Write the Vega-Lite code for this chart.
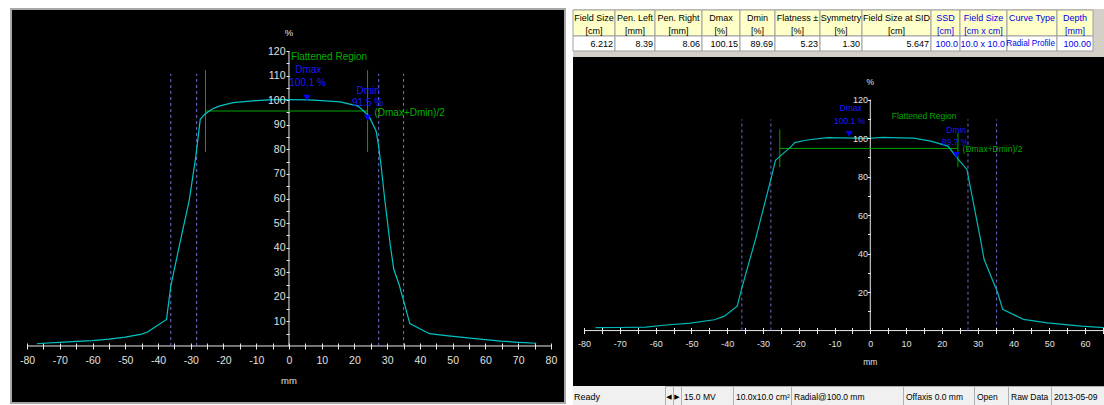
{
 "$schema": "https://vega.github.io/schema/vega-lite/v6.json",
 "background": "#ffffff",
 "padding": {"left": 10, "top": 8, "right": 0, "bottom": 0},
 "config": {"font": "Liberation Sans", "view": {"stroke": null}, "text": {"font": "Liberation Sans"}},
 "datasets": {
  "L_curve": [
   {"x": -77, "y": 0.9}, {"x": -75, "y": 1.1}, {"x": -70, "y": 1.5}, {"x": -65, "y": 1.9}, {"x": -60, "y": 2.2},
   {"x": -55, "y": 2.8}, {"x": -50, "y": 3.6}, {"x": -45, "y": 4.8}, {"x": -43.2, "y": 5.7}, {"x": -37.4, "y": 10.8},
   {"x": -36.1, "y": 24.4}, {"x": -33.4, "y": 41.3}, {"x": -30.5, "y": 59}, {"x": -28.5, "y": 76.6}, {"x": -27.1, "y": 92.2},
   {"x": -25.8, "y": 94.2}, {"x": -23.6, "y": 96.3}, {"x": -21.4, "y": 97.6}, {"x": -17.1, "y": 99.0}, {"x": -10, "y": 99.8},
   {"x": -5.1, "y": 100.2}, {"x": 0, "y": 100.2}, {"x": 5.8, "y": 100.1}, {"x": 10, "y": 99.8}, {"x": 15.7, "y": 99.3},
   {"x": 21.1, "y": 97.6}, {"x": 24.4, "y": 93.6}, {"x": 26.6, "y": 87.5}, {"x": 27.3, "y": 82}, {"x": 28.2, "y": 72.5},
   {"x": 29.3, "y": 59}, {"x": 30.9, "y": 41.4}, {"x": 32, "y": 31.2}, {"x": 33.6, "y": 25.1}, {"x": 35.3, "y": 17},
   {"x": 36.9, "y": 9.1}, {"x": 42.9, "y": 5.0}, {"x": 48, "y": 4.2}, {"x": 53.8, "y": 3.4}, {"x": 60, "y": 2.6},
   {"x": 64.7, "y": 2.0}, {"x": 70, "y": 1.5}, {"x": 75.5, "y": 1.1}
  ],
  "L_axes": [{"x": -80, "x2": 80, "y": 0, "y2": 0}, {"x": 0, "x2": 0, "y": 0, "y2": 120}],
  "L_dash": [{"x": -36.1, "y": 0, "y2": 110.7}, {"x": -28.2, "y": 0, "y2": 110.7}, {"x": 27.4, "y": 0, "y2": 110.7}, {"x": 35.0, "y": 0, "y2": 110.7}],
  "L_green": [{"x": -25.5, "x2": -25.5, "y": 78.9, "y2": 112.2}, {"x": 24.0, "x2": 24.0, "y": 78.9, "y2": 112.2}, {"x": -25.5, "x2": 24.0, "y": 95.6, "y2": 95.6}],
  "L_gtext": [{"x": 0.6, "y": 117.6, "t": "Flattened Region"}, {"x": 26.1, "y": 94.9, "t": "(Dmax+Dmin)/2"}],
  "L_btext": [{"x": 5.9, "y": 112.2, "t": "Dmax"}, {"x": 5.7, "y": 106.9, "t": "100.1 %"}, {"x": 24.2, "y": 103.7, "t": "Dmin"}, {"x": 24.0, "y": 99.0, "t": "91.5 %"}],
  "L_marks": [{"x": 5.5, "y": 101.0}, {"x": 24.0, "y": 92.8}],
  "L_titles": [{"x": 0, "y": 127.3, "t": "%"}, {"x": 0, "y": -14.2, "t": "mm"}],
  "R_curve": [
   {"x": -76.8, "y": 1.5}, {"x": -70, "y": 1.6}, {"x": -62.8, "y": 1.8}, {"x": -57.1, "y": 2.9}, {"x": -50.3, "y": 3.9},
   {"x": -43.6, "y": 5.6}, {"x": -40.8, "y": 7.5}, {"x": -37.2, "y": 12.7}, {"x": -35.9, "y": 22.2}, {"x": -32, "y": 48},
   {"x": -27.8, "y": 78.5}, {"x": -26.5, "y": 88.4}, {"x": -25.2, "y": 90.6}, {"x": -22, "y": 95.8}, {"x": -21.1, "y": 97.6},
   {"x": -17.7, "y": 99}, {"x": -11.9, "y": 100.2}, {"x": -0.4, "y": 99.8}, {"x": 3.4, "y": 100.3}, {"x": 12.1, "y": 100},
   {"x": 16.9, "y": 98.4}, {"x": 21.7, "y": 95.8}, {"x": 24.6, "y": 88.9}, {"x": 27, "y": 83.7}, {"x": 28.9, "y": 65.6},
   {"x": 30.8, "y": 47.4}, {"x": 31.8, "y": 37}, {"x": 35.6, "y": 19.6}, {"x": 37, "y": 11}, {"x": 42.8, "y": 5.8},
   {"x": 49.5, "y": 4}, {"x": 59.1, "y": 2.3}, {"x": 65.4, "y": 1.5}
  ],
  "R_axes": [{"x": -80, "x2": 65.6, "y": 0, "y2": 0}, {"x": 0, "x2": 0, "y": 0, "y2": 120}],
  "R_dash": [{"x": -35.9, "y": 0, "y2": 109.7}, {"x": -27.8, "y": 0, "y2": 109.7}, {"x": 27.3, "y": 0, "y2": 109.7}, {"x": 35.3, "y": 0, "y2": 109.7}],
  "R_green": [{"x": -25.3, "x2": -25.3, "y": 84.9, "y2": 104.5}, {"x": 24.5, "x2": 24.5, "y": 84.9, "y2": 102.7}, {"x": -25.3, "x2": 24.5, "y": 94.6, "y2": 94.6}],
  "R_gtext": [{"x": 6.0, "y": 111.4, "t": "Flattened Region"}, {"x": 25.8, "y": 94.1, "t": "(Dmax+Dmin)/2"}],
  "R_btext": [{"x": -5.5, "y": 115.7, "t": "Dmax"}, {"x": -5.8, "y": 108.8, "t": "100.1 %"}, {"x": 24.0, "y": 104.2, "t": "Dmin"}, {"x": 23.7, "y": 97.9, "t": "89.7 %"}],
  "R_marks": [{"x": -5.9, "y": 102.2}, {"x": 24.1, "y": 91.2}],
  "R_titles": [{"x": 0, "y": 129.2, "t": "%"}, {"x": 0, "y": -16.4, "t": "mm"}],
  "table": [
   {"c0": 0, "c1": 1, "h": ["Field Size", "[cm]"], "v": "6.212"},
   {"c0": 1, "c1": 2, "h": ["Pen. Left", "[mm]"], "v": "8.39"},
   {"c0": 2, "c1": 3, "h": ["Pen. Right", "[mm]"], "v": "8.06"},
   {"c0": 3, "c1": 4, "h": ["Dmax", "[%]"], "v": "100.15"},
   {"c0": 4, "c1": 5, "h": ["Dmin", "[%]"], "v": "89.69"},
   {"c0": 5, "c1": 6, "h": ["Flatness ±", "[%]"], "v": "5.23"},
   {"c0": 6, "c1": 7, "h": ["Symmetry", "[%]"], "v": "1.30"},
   {"c0": 7, "c1": 8, "h": ["Field Size at SID", "[cm]"], "v": "5.647"},
   {"c0": 8, "c1": 9, "h": ["SSD", "[cm]"], "v": "100.0"},
   {"c0": 9, "c1": 10, "h": ["Field Size", "[cm x cm]"], "v": "10.0 x 10.0"},
   {"c0": 10, "c1": 11, "h": ["Curve Type", ""], "v": "Radial Profile"},
   {"c0": 11, "c1": 12, "h": ["Depth", "[mm]"], "v": "100.00"}
  ],
  "status": [
   {"i": 1, "t": "Ready"}, {"i": 2, "t": "◀"}, {"i": 3, "t": "▶"}, {"i": 4, "t": "15.0 MV"}, {"i": 5, "t": "10.0x10.0 cm²"},
   {"i": 6, "t": "Radial@100.0 mm"}, {"i": 7, "t": "Offaxis 0.0 mm"}, {"i": 8, "t": "Open"}, {"i": 9, "t": "Raw Data"}, {"i": 10, "t": "2013-05-09"}
  ]
 },
 "spacing": 8,
 "bounds": "flush",
 "hconcat": [
  {
   "width": 554, "height": 394,
   "view": {"fill": "#000000", "stroke": "#a8a8a8", "strokeWidth": 2},
   "encoding": {
    "x": {"field": "x", "type": "quantitative", "scale": {"domain": [-84.9, 84.3], "nice": false, "zero": false},
     "axis": {"orient": "bottom", "offset": -60, "values": [-80,-75,-70,-65,-60,-55,-50,-45,-40,-35,-30,-25,-20,-15,-10,-5,0,5,10,15,20,25,30,35,40,45,50,55,60,65,70,75,80],
      "labelExpr": "datum.value % 10 === 0 ? '' + datum.value : ''", "domain": false, "grid": false, "tickSize": 6, "tickColor": "#e8e8e8",
      "labelColor": "#e0e0e0", "labelFont": "Liberation Sans", "labelFontSize": 10.5, "labelPadding": 6, "labelOverlap": false, "labelFlush": false, "title": null, "zindex": 1}},
    "y": {"field": "y", "type": "quantitative", "scale": {"domain": [-23.2, 137.1], "nice": false, "zero": false},
     "axis": {"orient": "left", "offset": -278, "values": [5,10,15,20,25,30,35,40,45,50,55,60,65,70,75,80,85,90,95,100,105,110,115,120],
      "labelExpr": "datum.value % 10 === 0 ? '' + datum.value : ''", "domain": false, "grid": false, "tickSize": 3, "tickColor": "#e8e8e8",
      "labelColor": "#e0e0e0", "labelFont": "Liberation Sans", "labelFontSize": 10.5, "labelPadding": 1, "labelOverlap": false, "labelFlush": false, "title": null, "zindex": 1}}
   },
   "layer": [
    {"data": {"name": "L_axes"}, "mark": {"type": "rule", "color": "#e8e8e8", "strokeWidth": 1}, "encoding": {"x2": {"field": "x2"}, "y2": {"field": "y2"}}},
    {"data": {"name": "L_dash"}, "mark": {"type": "rule", "color": "#7272d8", "strokeDash": [3, 3]}, "encoding": {"y2": {"field": "y2"}}},
    {"data": {"name": "L_green"}, "mark": {"type": "rule", "color": "#00a800"}, "encoding": {"x2": {"field": "x2"}, "y2": {"field": "y2"}}},
    {"data": {"name": "L_curve"}, "mark": {"type": "line", "color": "#00c4c4", "strokeWidth": 1.2}, "encoding": {}},
    {"data": {"name": "L_marks"}, "mark": {"type": "point", "shape": "triangle-down", "filled": true, "size": 50, "color": "#0000ff", "opacity": 1}, "encoding": {}},
    {"data": {"name": "L_gtext"}, "mark": {"type": "text", "align": "left", "baseline": "middle", "fontSize": 10, "color": "#00b000"}, "encoding": {"text": {"field": "t"}}},
    {"data": {"name": "L_btext"}, "mark": {"type": "text", "align": "center", "baseline": "middle", "fontSize": 10, "color": "#1a1aff"}, "encoding": {"text": {"field": "t"}}},
    {"data": {"name": "L_titles"}, "mark": {"type": "text", "align": "center", "baseline": "middle", "fontSize": 9.5, "color": "#e0e0e0"}, "encoding": {"text": {"field": "t"}}}
   ]
  },
  {
   "spacing": 0,
   "bounds": "flush",
   "vconcat": [
    {
     "width": 532, "height": 48,
     "view": {"fill": "#d4d0c8", "stroke": null},
     "data": {"name": "table"},
     "resolve": {"scale": {"x": "independent"}},
     "layer": [
      {"mark": {"type": "rect", "fill": "#ffffc8", "stroke": "#a0a0a0", "strokeWidth": 1},
       "encoding": {
        "x": {"field": "c0", "type": "quantitative", "scale": {"domain": [0,1,2,3,4,5,6,7,8,9,10,11,12], "range": [0,42,82,129,167,202,247,289,358,387,434,484,520], "nice": false, "zero": false}, "axis": null},
        "x2": {"field": "c1"},
        "y": {"datum": 0, "type": "quantitative", "scale": {"domain": [0, 1, 2], "range": [1, 27, 42], "nice": false, "zero": false}, "axis": null},
        "y2": {"datum": 1}}},
      {"mark": {"type": "rect", "fill": "#ffffff", "stroke": "#a0a0a0", "strokeWidth": 1},
       "encoding": {
        "x": {"field": "c0", "type": "quantitative", "scale": {"domain": [0,1,2,3,4,5,6,7,8,9,10,11,12], "range": [0,42,82,129,167,202,247,289,358,387,434,484,520], "nice": false, "zero": false}, "axis": null},
        "x2": {"field": "c1"},
        "y": {"datum": 1, "type": "quantitative", "scale": {"domain": [0, 1, 2], "range": [1, 27, 42], "nice": false, "zero": false}, "axis": null},
        "y2": {"datum": 2}}},
      {"mark": {"type": "text", "fontSize": 9, "lineHeight": 12.5, "baseline": "middle", "align": "center", "dy": -5},
       "encoding": {
        "x": {"field": "c1", "type": "quantitative", "scale": {"domain": [1,2,3,4,5,6,7,8,9,10,11,12], "range": [21,62,105.5,148,184.5,224.5,268,323.5,372.5,410.5,459,502], "nice": false, "zero": false}, "axis": null},
        "y": {"datum": 0.5, "type": "quantitative", "scale": {"domain": [0, 1, 2], "range": [1, 27, 42], "nice": false, "zero": false}, "axis": null},
        "text": {"field": "h"},
        "color": {"condition": {"test": "datum.c1 > 8", "value": "#0000e6"}, "value": "#000000"}}},
      {"mark": {"type": "text", "baseline": "middle", "align": "right", "dx": -2},
       "encoding": {
        "x": {"field": "c1", "type": "quantitative", "scale": {"domain": [0,1,2,3,4,5,6,7,8,9,10,11,12], "range": [0,42,82,129,167,202,247,289,358,387,434,484,520], "nice": false, "zero": false}, "axis": null},
        "y": {"datum": 1.5, "type": "quantitative", "scale": {"domain": [0, 1, 2], "range": [1, 27, 42], "nice": false, "zero": false}, "axis": null},
        "text": {"field": "v"},
        "size": {"condition": {"test": "datum.c1 == 11", "value": 8.2}, "value": 9},
        "color": {"condition": {"test": "datum.c1 > 8", "value": "#0000e6"}, "value": "#000000"}}}
     ]
    },
    {
     "width": 532, "height": 329,
     "view": {"fill": "#000000", "stroke": null},
     "encoding": {
      "x": {"field": "x", "type": "quantitative", "scale": {"domain": [-83.1, 65.6], "nice": false, "zero": false},
       "axis": {"orient": "bottom", "offset": -58.5, "values": [-80,-75,-70,-65,-60,-55,-50,-45,-40,-35,-30,-25,-20,-15,-10,-5,0,5,10,15,20,25,30,35,40,45,50,55,60,65],
        "labelExpr": "datum.value % 10 === 0 ? '' + datum.value : ''", "domain": false, "grid": false, "tickSize": 6, "tickColor": "#e8e8e8",
        "labelColor": "#e0e0e0", "labelFont": "Liberation Sans", "labelFontSize": 9, "labelPadding": 6, "labelOverlap": false, "labelFlush": false, "title": null, "zindex": 1}},
      "y": {"field": "y", "type": "quantitative", "scale": {"domain": [-28.8, 142.1], "nice": false, "zero": false},
       "axis": {"orient": "left", "offset": -297.5, "values": [10,20,30,40,50,60,70,80,90,100,110,120],
        "labelExpr": "datum.value % 20 === 0 ? '' + datum.value : ''", "domain": false, "grid": false, "tickSize": 3, "tickColor": "#e8e8e8",
        "labelColor": "#e0e0e0", "labelFont": "Liberation Sans", "labelFontSize": 9, "labelPadding": 0, "labelOverlap": false, "labelFlush": false, "title": null, "zindex": 1}}
     },
     "layer": [
      {"data": {"name": "R_axes"}, "mark": {"type": "rule", "color": "#e8e8e8", "strokeWidth": 1, "clip": true}, "encoding": {"x2": {"field": "x2"}, "y2": {"field": "y2"}}},
      {"data": {"name": "R_dash"}, "mark": {"type": "rule", "color": "#6a6ad0", "strokeDash": [3, 3]}, "encoding": {"y2": {"field": "y2"}}},
      {"data": {"name": "R_green"}, "mark": {"type": "rule", "color": "#00a000"}, "encoding": {"x2": {"field": "x2"}, "y2": {"field": "y2"}}},
      {"data": {"name": "R_curve"}, "mark": {"type": "line", "color": "#00b8b8", "strokeWidth": 1.2, "clip": true}, "encoding": {}},
      {"data": {"name": "R_marks"}, "mark": {"type": "point", "shape": "triangle-down", "filled": true, "size": 45, "color": "#0000ff", "opacity": 1}, "encoding": {}},
      {"data": {"name": "R_gtext"}, "mark": {"type": "text", "align": "left", "baseline": "middle", "fontSize": 8.5, "color": "#00a800"}, "encoding": {"text": {"field": "t"}}},
      {"data": {"name": "R_btext"}, "mark": {"type": "text", "align": "center", "baseline": "middle", "fontSize": 8.5, "color": "#1a1aff"}, "encoding": {"text": {"field": "t"}}},
      {"data": {"name": "R_titles"}, "mark": {"type": "text", "align": "center", "baseline": "middle", "fontSize": 8.5, "color": "#e0e0e0"}, "encoding": {"text": {"field": "t"}}}
     ]
    },
    {
     "spacing": 0, "bounds": "flush",
     "hconcat": [
      {"width": 92, "height": 20, "view": {"fill": "#f0f0f0", "stroke": null}, "data": {"name": "status"}, "transform": [{"filter": "datum.i == 1"}], "mark": {"type": "text", "align": "left", "dx": 1, "dy": 1, "fontSize": 9, "color": "#000000"}, "encoding": {"text": {"field": "t"}, "x": {"datum": 0, "type": "quantitative", "scale": {"domain": [0, 1]}, "axis": null}}},
      {"width": 8, "height": 20, "view": {"fill": "#f0f0f0", "stroke": "#b0b0b0"}, "data": {"name": "status"}, "transform": [{"filter": "datum.i == 2"}], "mark": {"type": "text", "dy": 1, "font": "DejaVu Sans", "fontSize": 7, "color": "#000000"}, "encoding": {"text": {"field": "t"}}},
      {"width": 8, "height": 20, "view": {"fill": "#f0f0f0", "stroke": "#b0b0b0"}, "data": {"name": "status"}, "transform": [{"filter": "datum.i == 3"}], "mark": {"type": "text", "dy": 1, "font": "DejaVu Sans", "fontSize": 7, "color": "#000000"}, "encoding": {"text": {"field": "t"}}},
      {"width": 52, "height": 20, "view": {"fill": "#f0f0f0", "stroke": "#b0b0b0"}, "data": {"name": "status"}, "transform": [{"filter": "datum.i == 4"}], "mark": {"type": "text", "align": "left", "dx": 3, "dy": 1, "fontSize": 8.5, "color": "#000000"}, "encoding": {"text": {"field": "t"}, "x": {"datum": 0, "type": "quantitative", "scale": {"domain": [0, 1]}, "axis": null}}},
      {"width": 58, "height": 20, "view": {"fill": "#f0f0f0", "stroke": "#b0b0b0"}, "data": {"name": "status"}, "transform": [{"filter": "datum.i == 5"}], "mark": {"type": "text", "align": "left", "dx": 3, "dy": 1, "fontSize": 8.5, "color": "#000000"}, "encoding": {"text": {"field": "t"}, "x": {"datum": 0, "type": "quantitative", "scale": {"domain": [0, 1]}, "axis": null}}},
      {"width": 112, "height": 20, "view": {"fill": "#f0f0f0", "stroke": "#b0b0b0"}, "data": {"name": "status"}, "transform": [{"filter": "datum.i == 6"}], "mark": {"type": "text", "align": "left", "dx": 3, "dy": 1, "fontSize": 8.5, "color": "#000000"}, "encoding": {"text": {"field": "t"}, "x": {"datum": 0, "type": "quantitative", "scale": {"domain": [0, 1]}, "axis": null}}},
      {"width": 71, "height": 20, "view": {"fill": "#f0f0f0", "stroke": "#b0b0b0"}, "data": {"name": "status"}, "transform": [{"filter": "datum.i == 7"}], "mark": {"type": "text", "align": "left", "dx": 3, "dy": 1, "fontSize": 8.5, "color": "#000000"}, "encoding": {"text": {"field": "t"}, "x": {"datum": 0, "type": "quantitative", "scale": {"domain": [0, 1]}, "axis": null}}},
      {"width": 34, "height": 20, "view": {"fill": "#f0f0f0", "stroke": "#b0b0b0"}, "data": {"name": "status"}, "transform": [{"filter": "datum.i == 8"}], "mark": {"type": "text", "align": "left", "dx": 3, "dy": 1, "fontSize": 8.5, "color": "#000000"}, "encoding": {"text": {"field": "t"}, "x": {"datum": 0, "type": "quantitative", "scale": {"domain": [0, 1]}, "axis": null}}},
      {"width": 43, "height": 20, "view": {"fill": "#f0f0f0", "stroke": "#b0b0b0"}, "data": {"name": "status"}, "transform": [{"filter": "datum.i == 9"}], "mark": {"type": "text", "align": "left", "dx": 3, "dy": 1, "fontSize": 8.5, "color": "#000000"}, "encoding": {"text": {"field": "t"}, "x": {"datum": 0, "type": "quantitative", "scale": {"domain": [0, 1]}, "axis": null}}},
      {"width": 54, "height": 20, "view": {"fill": "#f0f0f0", "stroke": "#b0b0b0"}, "data": {"name": "status"}, "transform": [{"filter": "datum.i == 10"}], "mark": {"type": "text", "align": "left", "dx": 3, "dy": 1, "fontSize": 8.5, "color": "#000000"}, "encoding": {"text": {"field": "t"}, "x": {"datum": 0, "type": "quantitative", "scale": {"domain": [0, 1]}, "axis": null}}}
     ]
    }
   ]
  }
 ]
}
